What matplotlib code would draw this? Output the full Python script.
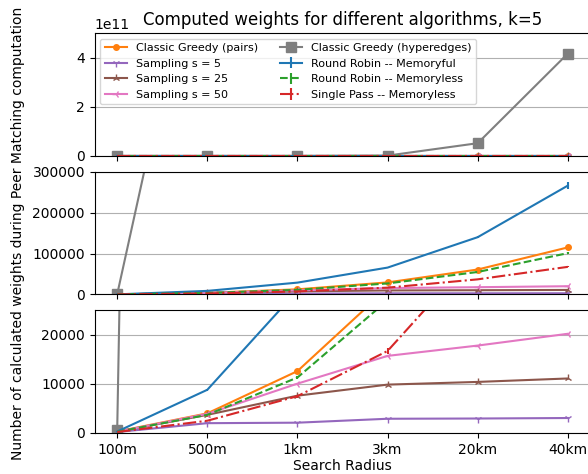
import matplotlib
matplotlib.use('Agg')
import matplotlib.pyplot as plt

radii = ['100m', '500m', '1km', '3km', '20km', '40km']
greedy_pairs = [300, 4000, 12600, 29500, 61000, 115000]
greedy_hyper = [600, 1.0e6, 3.0e7, 1.5e9, 5.2e10, 4.17e11]
sampling_5 = [200, 2000, 2100, 2900, 2950, 3050]
sampling_25 = [250, 3700, 7600, 9850, 10400, 11100]
sampling_50 = [250, 3900, 10050, 15700, 17800, 20200]
rr_memoryful = [300, 8800, 29000, 65700, 140000, 266000]
rr_memoryful_err = [50, 200, 500, 1000, 2000, 8000]
rr_memoryless = [250, 3700, 11300, 27000, 55000, 101000]
rr_memoryless_err = [50, 100, 300, 600, 1000, 2000]
single_pass = [200, 2500, 7500, 16700, 37000, 67500]
single_pass_err = [50, 100, 300, 600, 1000, 1500]

x = list(range(len(radii)))

fig, axes = plt.subplots(3, 1, sharex=True, figsize=(5.88, 4.74), dpi=100,
                         gridspec_kw={'hspace': 0.128})
fig.subplots_adjust(left=0.161, right=1.004, top=0.930, bottom=0.0865)

for ax in axes:
    ax.plot(x, greedy_pairs, color='C1', marker='o', markersize=4, label='Classic Greedy (pairs)')
    ax.plot(x, sampling_5, color='C4', marker='1', label='Sampling s = 5')
    ax.plot(x, sampling_25, color='C5', marker='2', label='Sampling s = 25')
    ax.plot(x, sampling_50, color='C6', marker='3', label='Sampling s = 50')
    ax.plot(x, greedy_hyper, color='C7', marker='s', markersize=7, label='Classic Greedy (hyperedges)')
    ax.errorbar(x, rr_memoryful, yerr=rr_memoryful_err, color='C0', label='Round Robin -- Memoryful')
    ax.errorbar(x, rr_memoryless, yerr=rr_memoryless_err, color='C2', linestyle='--', label='Round Robin -- Memoryless')
    ax.errorbar(x, single_pass, yerr=single_pass_err, color='C3', linestyle='-.', label='Single Pass -- Memoryless')
    ax.yaxis.grid(True)

axes[0].set_ylim(0, 5e11)
axes[0].set_yticks([0, 2e11, 4e11])
axes[1].set_ylim(0, 300000)
axes[1].set_yticks([0, 100000, 200000, 300000])
axes[2].set_ylim(0, 25000)
axes[2].set_yticks([0, 10000, 20000])

axes[2].set_xticks(x)
axes[2].set_xticklabels(radii)
axes[2].set_xlabel('Search Radius', labelpad=2)
axes[0].set_title('Computed weights for different algorithms, k=5')
axes[0].legend(loc='upper left', ncol=2, fontsize=8)
fig.text(0.031, 0.508, 'Number of calculated weights during Peer Matching computation',
         rotation=90, va='center', ha='center')

plt.savefig('out.png')
